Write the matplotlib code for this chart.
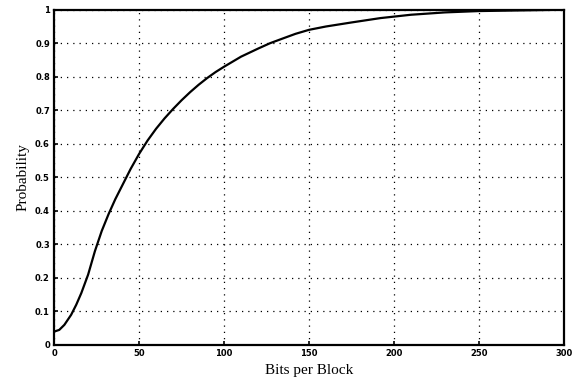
import matplotlib
matplotlib.use("Agg")
import matplotlib.pyplot as plt

bits = [0, 3, 6, 10, 13, 16, 20, 24, 28, 32, 36, 40, 45, 50, 55, 60, 65, 70, 75, 80,
        85, 90, 95, 100, 110, 120, 127, 135, 142, 150, 160, 175, 192, 210, 230, 250,
        275, 300]
prob = [0.04, 0.045, 0.06, 0.09, 0.12, 0.155, 0.21, 0.28, 0.34, 0.39, 0.435, 0.475,
        0.525, 0.57, 0.61, 0.645, 0.676, 0.704, 0.730, 0.754, 0.776, 0.796, 0.814, 0.83,
        0.86, 0.884, 0.90, 0.915, 0.928, 0.94, 0.95, 0.962, 0.975, 0.985, 0.992,
        0.996, 0.998, 1.0]
xticks = [0, 50, 100, 150, 200, 250, 300]
yticks = [0, 0.1, 0.2, 0.3, 0.4, 0.5, 0.6, 0.7, 0.8, 0.9, 1]
ytick_labels = ["0", "0.1", "0.2", "0.3", "0.4", "0.5", "0.6", "0.7", "0.8", "0.9", "1"]

fig = plt.figure(figsize=(5.76, 3.81), dpi=100)
ax = fig.add_axes([0.094, 0.0945, 0.885, 0.88])
ax.plot(bits, prob, color="black", linewidth=1.6)
ax.set_xlim(0, 300)
ax.set_ylim(0, 1)
ax.set_xticks(xticks)
ax.set_xticklabels([str(t) for t in xticks], fontsize=6, fontweight="bold")
ax.set_yticks(yticks)
ax.set_yticklabels(ytick_labels, fontsize=6, fontweight="bold")
ax.tick_params(direction="in", length=3, width=1.2, pad=3)
ax.grid(True, color="black", linestyle=(0, (1, 4)), linewidth=0.9)
for s in ax.spines.values():
    s.set_linewidth(1.6)
ax.set_xlabel("Bits per Block", fontsize=11, family="Liberation Serif", labelpad=4)
ax.set_ylabel("Probability", fontsize=11, family="Liberation Serif", labelpad=4)
fig.savefig("out.png", dpi=100)
